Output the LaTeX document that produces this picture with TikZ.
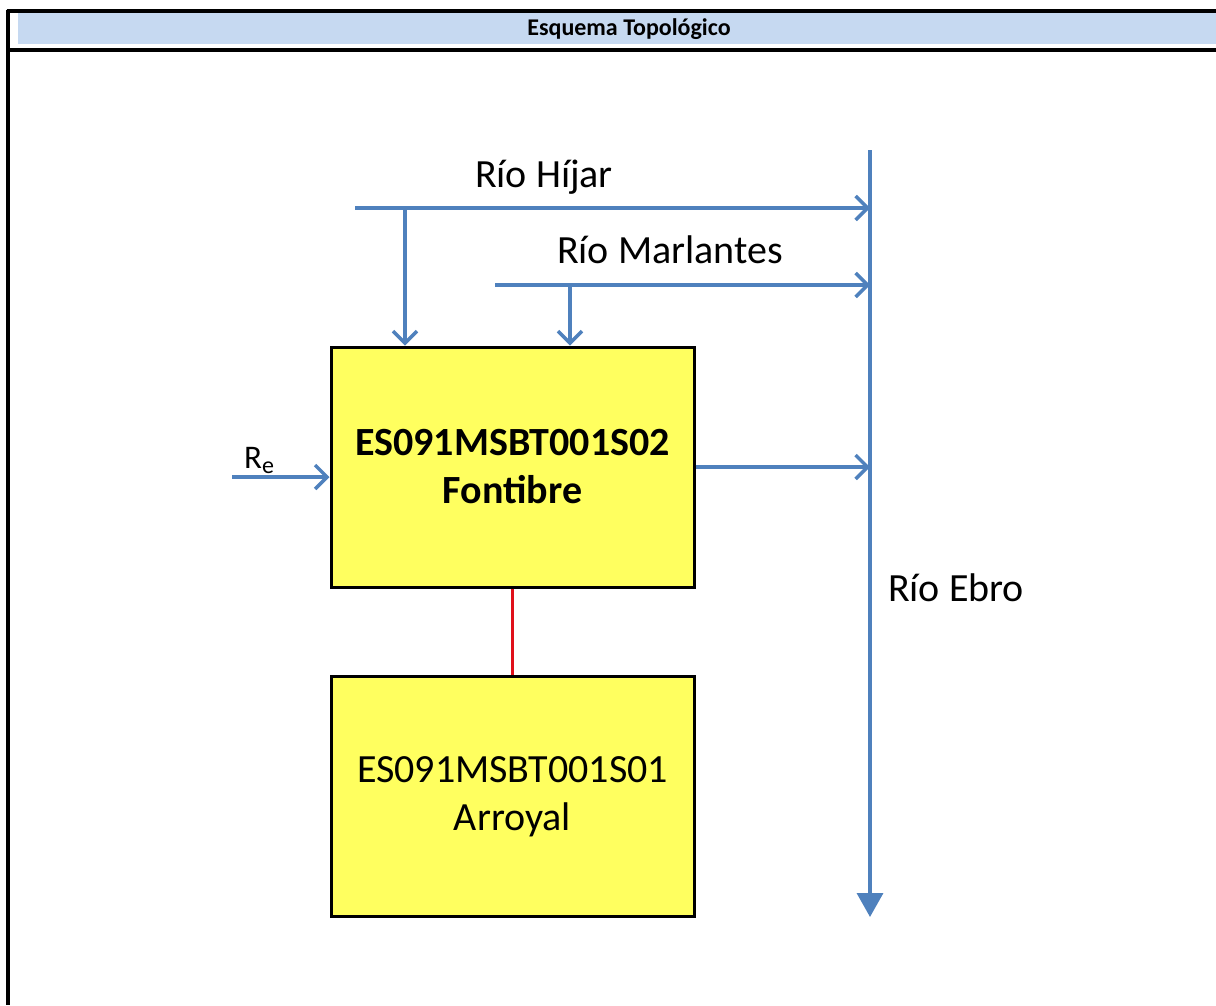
\documentclass[tikz,border=0pt]{standalone}
\usepackage{fontspec}
\setmainfont{Carlito}
\usetikzlibrary{arrows.meta}
\definecolor{hdrblue}{HTML}{C6D9F1}
\definecolor{riverblue}{HTML}{4F81BD}
\definecolor{boxyellow}{HTML}{FFFF5F}
\definecolor{linkred}{HTML}{E0101A}
\begin{document}
\begin{tikzpicture}[x=1pt,y=-1pt,
  frame/.style={line width=3.2pt,black},
  river/.style={line width=3.5pt,riverblue},
  flow/.style={river,-{Straight Barb[length=12pt,width=24pt,line width=3.5pt]}},
  wbox/.style={draw=black,line width=3pt,fill=boxyellow,minimum width=363pt,minimum height=240pt,align=center,inner sep=0pt},
  lbl/.style={font=\fontsize{40}{46}\selectfont,inner sep=0pt}]
\useasboundingbox (0,0) rectangle (1216,1005);
% table frame
\fill[hdrblue] (18,13) rectangle (1216,44);
\draw[frame] (6.5,11) -- (1216,11);
\draw[frame] (6.5,50) -- (1216,50);
\draw[frame] (8,9.5) -- (8,1005);
\node[font=\fontsize{24}{28}\selectfont\bfseries] (title) at (629,29) {Esquema Topológico};
% boxes
\node[wbox,font=\fontsize{40}{46}\selectfont\bfseries] (b1) at (512.5,467) {ES091MSBT001S02\\[2pt]Fontibre};
\node[wbox,font=\fontsize{40}{46}\selectfont] (b2) at (512.5,796.5) {ES091MSBT001S01\\[2pt]Arroyal};
% coordinates
\coordinate (ebroTop) at (870,150);
\coordinate (ebroBot) at (870,917);
\coordinate (hijarL) at (355,208);
\coordinate (marlL) at (495,285);
\coordinate (hijarJ) at (405,208);
\coordinate (marlJ) at (570,285);
\coordinate (reL) at (232,477);
% Ebro
\draw[river,-{Triangle[length=24pt,width=26pt]}] (ebroTop) -- (ebroBot);
% tributaries
\draw[flow] (hijarL) -- (ebroTop |- hijarL);
\draw[flow] (marlL) -- (ebroTop |- marlL);
\draw[flow] (hijarJ) -- (hijarJ |- b1.north);
\draw[flow] (marlJ) -- (marlJ |- b1.north);
\draw[flow] (reL) -- (reL -| b1.west);
\draw[flow] (b1.east |- 0,467) -- (ebroTop |- 0,467);
\draw[linkred,line width=3pt] (b1.south) -- (b2.north);
% labels
\node[lbl] (lh) at (544,177) {Río Híjar};
\node[lbl] (lm) at (670,250) {Río Marlantes};
\node[lbl] (le) at (956,588) {Río Ebro};
\node[lbl,anchor=base west,font=\fontsize{33}{40}\selectfont] (lr) at (244,468) {R\raisebox{-0.35ex}{\fontsize{24}{24}\selectfont e}};
\end{tikzpicture}
\end{document}
